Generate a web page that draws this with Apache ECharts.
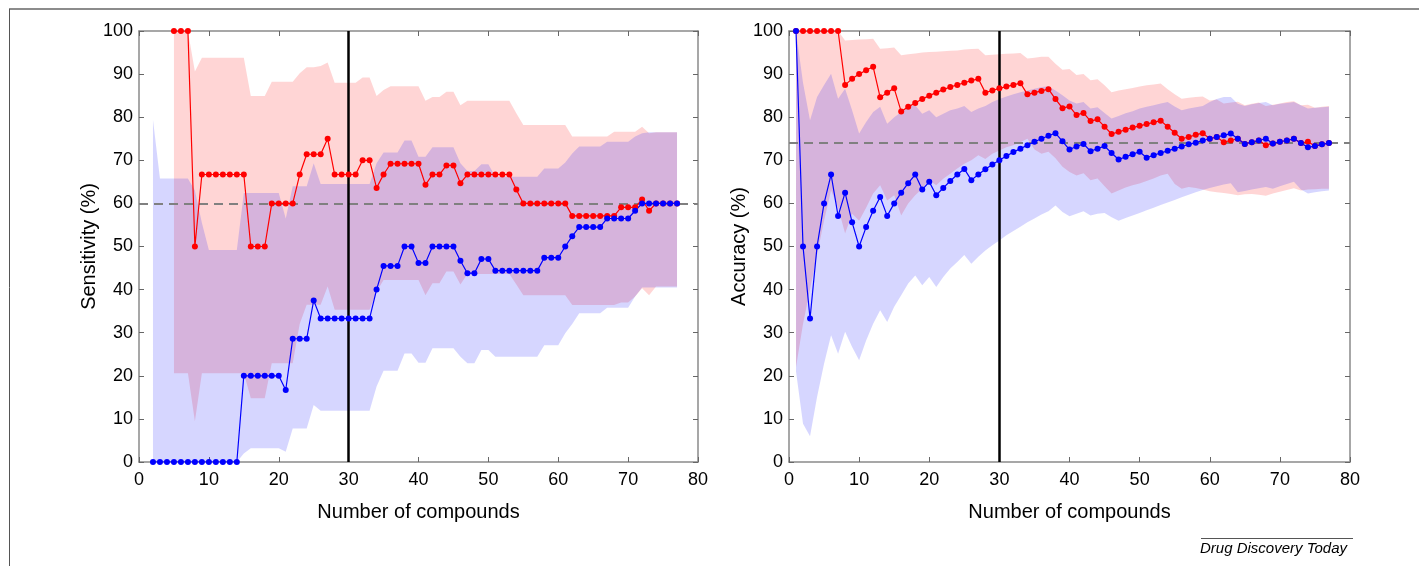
<!DOCTYPE html>
<html>
<head>
<meta charset="utf-8">
<script src="https://cdn.jsdelivr.net/npm/echarts@6/dist/echarts.min.js"></script>
<style>
  html, body { margin: 0; padding: 0; background: #fff; }
  #chart { width: 1419px; height: 566px; }
</style>
</head>
<body>
<div id="chart"></div>
<script>
// ---- data ----
// sensitivity panel: blue from n=2, red from n=5
const sensBlueStart = 2;
const sensBlue = [0,0,0,0,0,0,0,0,0,0,0,0,0, 20,20,20,20,20,20, 16.7, 28.6,28.6,28.6, 37.5,
  33.3,33.3,33.3,33.3,33.3,33.3,33.3,33.3, 40, 45.5,45.5,45.5, 50,50, 46.2,46.2, 50,50,50,50, 46.7,
  43.8,43.8, 47.1,47.1, 44.4,44.4,44.4,44.4,44.4,44.4,44.4, 47.4,47.4,47.4, 50, 52.4,
  54.5,54.5,54.5,54.5, 56.5,56.5,56.5,56.5, 58.3, 60,60,60,60,60,60];
const sensBlueHi = [79.4, 65.8,65.8,65.8,65.8,65.8, 63, 55.5, 49.2,49.2,49.2,49.2,49.2,
  62.4,62.4,62.4,62.4,62.4,62.4, 56.5, 64,64,64, 69.3, 64.5,64.5,64.5,64.5,64.5,64.5,64.5,64.5,
  69.3, 71.8,71.8,71.8, 74.6,74.6, 70.8,70.8, 73,73,73,73, 69.3, 67.5,67.5, 69.1,69.1,
  66.2,66.2,66.2,66.2,66.2,66.2,66.2, 68.1,68.1,68.1, 69.5, 71.6, 73.2,73.2,73.2,73.2,
  74.3,74.3,74.3,74.3, 75.5, 76.3, 76.5,76.5,76.5,76.5,76.5];
const sensBlueLo = [0,0,0,0,0,0,0,0,0,0,0,0,0, 2, 3.2,3.2,3.2,3.2,3.2, 2.4, 7.8,7.8,7.8, 13.2,
  11.9,11.9,11.9,11.9,11.9,11.9,11.9,11.9, 17.5, 21.2,21.2,21.2, 25.2,25.2, 23,23, 26.4,26.4,26.4,26.4,
  24.4, 22.9,22.9, 26,26, 24.4,24.4,24.4,24.4,24.4,24.4,24.4, 27.1,27.1,27.1, 29.9, 32,
  34.5,34.5,34.5,34.5, 35.8,35.8,35.8,35.8, 38.4, 40.5,40.5,40.5,40.5,40.5,40.5];

const sensRedStart = 5;
const sensRed = [100,100,100, 50, 66.7,66.7,66.7,66.7,66.7,66.7,66.7, 50,50,50, 60,60,60,60, 66.7,
  71.4,71.4,71.4, 75, 66.7,66.7,66.7,66.7, 70,70, 63.6, 66.7, 69.2,69.2,69.2,69.2,69.2, 64.3,
  66.7,66.7, 68.8,68.8, 64.7, 66.7,66.7,66.7,66.7,66.7,66.7,66.7, 63.2, 60,60,60,60,60,60,60,
  57.1,57.1,57.1,57.1,57.1,57.1,57.1, 59.1,59.1,59.1, 60.9, 58.3, 60,60,60,60];
const sensRedHi = [100,100,100, 90.6, 93.8,93.8,93.8,93.8,93.8,93.8,93.8, 84.9,84.9,84.9,
  88.2,88.2,88.2,88.2, 90.2, 91.6,91.6,91.9, 92.7, 88,88,88,88, 89.2,89.2, 84.9, 86.3,
  87.2,87.2,87.2,87.2,87.2, 83.8, 84.7,84.7, 85.9,85.9, 82.8, 83.8,83.8,83.8,83.8,83.8,83.8,83.8,
  80.9, 78.2,78.2,78.2,78.2,78.2,78.2,78.2, 75.5,75.5,75.5,75.5,75.5,75.5,76.6,
  76.6,76.6,76.6, 77.8, 76.3, 76.5,76.5,76.5,76.5];
const sensRedLo = [20.6,20.6,20.6, 9.4, 20.6,20.6,20.6,20.6,20.6,20.6,20.6, 14.8,14.8,14.8,
  22.9,22.9,22.9,22.9, 32, 36.5,36.5,36.5, 40.7, 35.3,35.3,35.3,35.3, 35.3,35.3, 39.5, 42.2,
  42.2,42.2,42.2,42.2,42.2, 38.7, 41.5,41.5, 44.2,44.2, 41.2, 43.6,43.6,43.6,43.6,43.6,43.6,43.6,
  41.2, 38.7,38.7,38.7,38.7,38.7,38.7,38.7, 36.4,36.4,36.4,36.4,36.4,36.4,36.4,
  37,37,38.4, 40.3, 38.7, 40.7,40.7,40.7,40.7];

// accuracy panel: both from n=1
const accStart = 1;
const accBlue = [100,50,33.3,50,60,66.7,57.1,62.5,55.6,50, 54.5,58.3,61.5,57.1,60,62.5,64.7,66.7,63.2,65,
  61.9,63.6,65.2,66.7,68,65.4,66.7,67.9,69,70, 71,71.9,72.7,73.5,74.3,75,75.7,76.3,74.4,72.5,
  73.2,73.8,72.1,72.7,73.3,71.7,70.2,70.8,71.4,72, 70.6,71.2,71.7,72.2,72.7,73.2,73.7,74.1,74.6,75,
  75.4,75.8,76.2,75,73.8,74.2,74.6,75,73.9,74.3, 74.6,75,74,73,73.3,73.7,74];
const accBlueHi = [100,88,79.3,84.7,87.5,90.1,84.3,86.6,81.6,76.2, 78.9,81.2,82.4,78.5,80,81.2,82.4,82.8,80.8,81.6,
  80,80.8,81.6,82,82.6,81.2,82,82.6,83.5,84.2, 84.8,85.3,85.8,86.2,86.6,87,87.2,86.2,85.1,83.9,
  83.2,83.5,82,82.3,81,79.7,80.3,80.9,81.4,82, 82.4,82.8,83.2,83.5,82.5,81.6,82,82.3,82.6,83.5,
  84.2,84.7,84.7,83.1,82.6,83,83.3,83.5,82.8,83.1, 83.3,83.5,82.8,82,82.2,82.3,82.4];
const accBlueLo = [21,8.9,6,15.1,22.8,29.4,25.1,30.2,26.7,23.6, 28.2,32.1,35.2,32.5,36,38.7,41.4,43.3,41,42.9,
  40.6,42.9,44.9,46.4,48,46,47.6,49.1,50.3,51.4, 52.6,53.6,54.6,55.6,56.5,57.4,58.2,59.5,58,57,
  57.6,58.2,57.2,57.6,57.8,56.8,56,56.6,57.2,57.8, 58.4,59,59.6,60.2,60.8,61.4,62,62.6,63.1,63.6,
  64,64.4,64.7,62.6,62.9,63.2,63.5,63.8,63.4,64, 64.5,65,63.2,62.3,62.6,62.8,63];

const accRed = [100,100,100,100,100,100,100,87.5,88.9,90, 90.9,91.7,84.6,85.7,86.7,81.3,82.4,83.3,84.2,85,
  85.7,86.4,87,87.5,88,88.5,88.9,85.7,86.2,86.7, 87.1,87.5,87.9,85.3,85.7,86.1,86.5,84.2,82.1,82.5,
  80.5,81,79.1,79.5,77.8,76.1,76.6,77.1,77.6,78, 78.4,78.8,79.2,77.8,76.4,75,75.4,75.9,76.3,75,
  75.4,74.2,74.6,75,73.8,74.2,74.6,73.5,73.9,74.3, 74.6,75,74,74.3,73.3,73.7,74];
const accRedHi = [100,100,100,100,100,100,100,97.8,97.9,98, 98.1,98.2,95.9,96,96.2,94.4,94.6,94.8,95,95.1,
  95.2,95.3,95.4,95.5,95.7,95.8,95.9,94.4,94.5,94.6, 94.7,94.8,94.9,93.6,93.8,94,94,92.4,91,91.2,
  89.8,90,88.6,88.8,87.4,85.8,86.2,86.5,86.8,87.1, 87.4,87.6,87.8,86.5,85.3,84.3,84.5,84.7,84.8,83.9,
  84.1,83.2,83.4,83.6,82.8,83.1,83.4,82.6,82.9,83.2, 83.5,83.7,82.8,82.9,82.2,82.4,82.6];
const accRedLo = [22,32,40,48,56,63,59,53,57.6,56, 59,62.3,64.2,60.7,61.9,57.2,60,61.9,63.4,65.4,
  64.2,65.7,66.9,68.1,69.2,70,71.2,70.3,71.5,72.3, 73,73.5,74.2,75,72.5,71.5,72,70.5,68.5,67.3,
  66.5,67,65.4,65.8,64,62.3,63,63.7,64.2,64.6, 65.2,65.8,66.5,66.9,64.5,63.4,63.8,63.6,63.2,62.8,
  62.6,62.4,62.2,61.9,62.1,62.2,62,61.8,62.3,62.7, 63.1,63.5,63,63.2,63.3,63.4,63.4];

const xTicks = { min: 0, max: 80, interval: 10 };
const yTicks = { min: 0, max: 100, interval: 10 };
const sensRef = 60;   // dashed line, left panel
const accRef = 74;    // dashed line, right panel
const cutoff = 30;    // black vertical line

// ---- helpers ----
const FONT = 'Liberation Sans, Arial, Helvetica, sans-serif';

function toPairs(start, arr) {
  return arr.map((v, i) => [start + i, v]);
}

// shaded band: one polygon through the hi points, back along the lo points
function band(idx, start, lo, hi, color) {
  return {
    type: 'custom', xAxisIndex: idx, yAxisIndex: idx, silent: true, z: 1,
    data: lo.map((v, i) => [start + i, v, hi[i]]),
    encode: { x: 0, y: [1, 2] },
    renderItem: function (params, api) {
      if (params.dataIndexInside !== 0) return null;
      const n = params.dataInsideLength;
      const top = [], bottom = [];
      for (let i = 0; i < n; i++) {
        const x = api.value(0, i);
        top.push(api.coord([x, api.value(2, i)]));
        bottom.push(api.coord([x, api.value(1, i)]));
      }
      return {
        type: 'polygon',
        shape: { points: top.concat(bottom.reverse()) },
        style: { fill: color }
      };
    }
  };
}

function dots(idx, start, arr, color) {
  return {
    type: 'line', xAxisIndex: idx, yAxisIndex: idx,
    data: toPairs(start, arr),
    symbol: 'circle', symbolSize: 6, z: 5,
    lineStyle: { color: color, width: 1.2 },
    itemStyle: { color: color }
  };
}

function refLines(idx, yVal) {
  return {
    type: 'line', xAxisIndex: idx, yAxisIndex: idx, data: [], z: 3,
    markLine: {
      silent: true, symbol: ['none', 'none'], label: { show: false },
      data: [
        { yAxis: yVal, lineStyle: { color: '#808080', width: 2.2, type: [9, 6] } },
        { xAxis: cutoff, lineStyle: { color: '#000', width: 2.5, type: 'solid' } }
      ]
    }
  };
}

function xAxisFor(gridIndex, top) {
  return Object.assign({
    type: 'value', gridIndex: gridIndex, position: top ? 'top' : 'bottom',
    name: top ? '' : 'Number of compounds', nameLocation: 'middle', nameGap: 40,
    nameTextStyle: { fontSize: 20, color: '#000', fontFamily: FONT },
    axisLine: { onZero: false, lineStyle: { color: '#8a8a8a', width: 1.5 } },
    axisTick: { inside: true, length: 5, lineStyle: { color: '#666' } },
    axisLabel: { show: !top, fontSize: 18, color: '#000', margin: 9, fontFamily: FONT },
    splitLine: { show: false }
  }, xTicks);
}

function yAxisFor(gridIndex, right, title) {
  return Object.assign({
    type: 'value', gridIndex: gridIndex, position: right ? 'right' : 'left',
    name: right ? '' : title, nameLocation: 'middle', nameGap: 40, nameRotate: 90,
    nameTextStyle: { fontSize: 20, color: '#000', fontFamily: FONT },
    axisLine: { onZero: false, lineStyle: { color: '#8a8a8a', width: 1.5 } },
    axisTick: { inside: true, length: 5, lineStyle: { color: '#666' } },
    axisLabel: { show: !right, fontSize: 18, color: '#000', margin: 6, fontFamily: FONT },
    splitLine: { show: false }
  }, yTicks);
}

const RED_FILL = 'rgba(255,0,0,0.165)';
const BLUE_FILL = 'rgba(0,0,255,0.16)';

const chart = echarts.init(document.getElementById('chart'));
const option = {
  animation: false,
  grid: [
    { left: 139, top: 31, width: 559, height: 431 },
    { left: 789, top: 31, width: 561, height: 431 }
  ],
  xAxis: [xAxisFor(0, false), xAxisFor(1, false), xAxisFor(0, true), xAxisFor(1, true)],
  yAxis: [yAxisFor(0, false, 'Sensitivity (%)'), yAxisFor(1, false, 'Accuracy (%)'),
          yAxisFor(0, true), yAxisFor(1, true)],
  series: [
    band(0, sensRedStart, sensRedLo, sensRedHi, RED_FILL),
    band(0, sensBlueStart, sensBlueLo, sensBlueHi, BLUE_FILL),
    band(1, accStart, accRedLo, accRedHi, RED_FILL),
    band(1, accStart, accBlueLo, accBlueHi, BLUE_FILL),
    refLines(0, sensRef),
    refLines(1, accRef),
    dots(0, sensRedStart, sensRed, '#ff0000'),
    dots(0, sensBlueStart, sensBlue, '#0000ff'),
    dots(1, accStart, accRed, '#ff0000'),
    dots(1, accStart, accBlue, '#0000ff')
  ],
  graphic: [
    // figure frame
    { type: 'line', shape: { x1: 9, y1: 9, x2: 1419, y2: 9 }, style: { stroke: '#8c8c8c', lineWidth: 2 } },
    { type: 'line', shape: { x1: 9.5, y1: 9, x2: 9.5, y2: 566 }, style: { stroke: '#555', lineWidth: 1 } },
    // journal footer
    { type: 'line', shape: { x1: 1201, y1: 538.5, x2: 1353, y2: 538.5 }, style: { stroke: '#555', lineWidth: 1 } },
    { type: 'text', left: 1200, top: 541,
      style: { text: 'Drug Discovery Today', fontSize: 15, fontStyle: 'italic', fill: '#000', fontFamily: FONT } }
  ]
};
chart.setOption(option);
</script>
</body>
</html>
